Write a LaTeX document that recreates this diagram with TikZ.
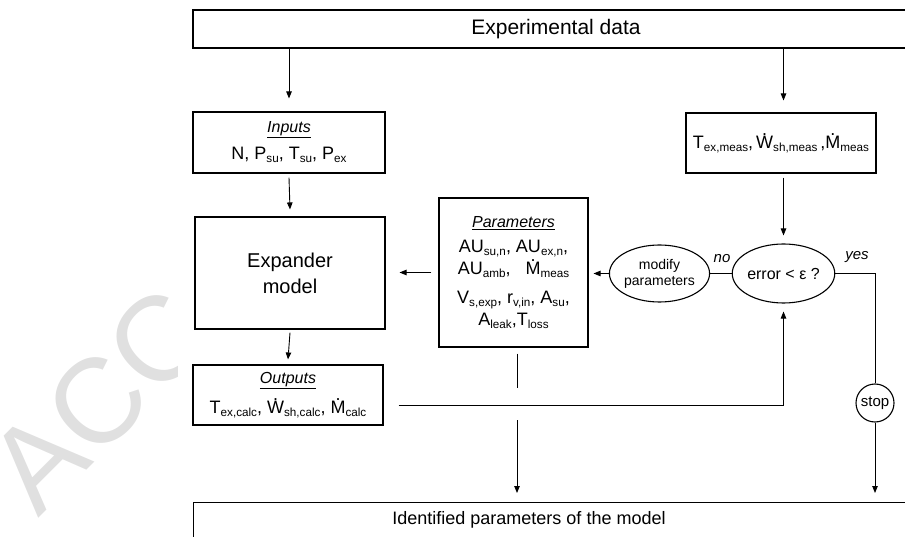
\documentclass[tikz,border=0pt]{standalone}
\usepackage{fontspec}
\setmainfont{Liberation Sans}
\usetikzlibrary{arrows.meta,shapes.geometric,calc}
\makeatletter
\newcommand\lo[1]{\raisebox{-0.32ex}{\fontsize{\fpeval{0.65*\f@size}}{\fpeval{0.65*\f@size}}\selectfont #1}}
\makeatother
\newcommand\dt[1]{\setbox0\hbox{#1}\rlap{\hbox to\wd0{\hss\raisebox{\dimexpr\ht0+0.04em\relax}{.}\hss}}#1}
\begin{document}
\begin{tikzpicture}[x=1pt,y=-1pt,
  box/.style={draw, line width=1.1pt, inner sep=0pt, align=center, font=\fontsize{18}{22}\selectfont},
  oval/.style={draw, ellipse, line width=1.1pt, inner sep=0pt, align=center},
  arr/.style={-{Triangle[length=7pt,width=5.5pt]}, line width=0.9pt},
  ln/.style={line width=0.9pt},
  lbl/.style={font=\fontsize{15}{18}\selectfont\itshape, inner sep=0pt}]
\useasboundingbox (0,0) rectangle (905,537);
\clip (0,0) rectangle (905,537);
% watermark
\begin{scope}
\clip (0,0) rectangle (177,537);
\node[rotate=45, text=black!12, font=\fontsize{120}{120}\selectfont, inner sep=0pt] (wm) at (99,400) {ACC};
\end{scope}
% boxes
\node[box, minimum width=726pt, minimum height=38pt, font=\fontsize{21}{25}\selectfont] (top) at (556,29) {Experimental data};
\node[box, minimum width=192pt, minimum height=61pt] (inp) at (289,142.5)
  {{\fontsize{16}{19}\selectfont\itshape\underline{Inputs}}\\[5pt] N, P\lo{su}, T\lo{su}, P\lo{ex}};
\node[box, minimum width=190pt, minimum height=112pt, font=\fontsize{20}{26}\selectfont] (exp) at (290,273) {Expander\\model};
\node[box, minimum width=190pt, minimum height=60pt] (out) at (288,395)
  {{\fontsize{16}{19}\selectfont\itshape\underline{Outputs}}\\[8pt] T\lo{ex,calc}, \dt{W}\lo{sh,calc}, \dt{M}\lo{calc}};
\node[box, minimum width=190pt, minimum height=60pt] (meas) at (781,143)
  {T\lo{ex,meas},\,\dt{W}\lo{sh,meas}\,,\dt{M}\lo{meas}};
\node[box, minimum width=149pt, minimum height=149pt] (par) at (513.5,272.5)
  {{\fontsize{16}{19}\selectfont\itshape\underline{Parameters}}\\[3pt]
   AU\lo{su,n}, AU\lo{ex,n},\\
   AU\lo{amb},\ \ \ \dt{M}\lo{meas}\\[7pt]
   V\lo{s,exp}, r\lo{v,in}, A\lo{su},\\
   A\lo{leak},T\lo{loss}};
\node[oval, minimum width=89pt, minimum height=57pt, font=\fontsize{14}{16}\selectfont] (mod) at (659.5,273.5) {modify\\parameters};
\node[oval, minimum width=91pt, minimum height=59pt, font=\fontsize{16}{19}\selectfont] (err) at (783.5,273.5) {error < ε ?};
\node[draw, circle, line width=1.1pt, minimum size=38pt, inner sep=0pt, font=\fontsize{15}{18}\selectfont] (stop) at (875,403) {stop};
\node[lbl] (no) at (722,259) {no};
\node[lbl] (yes) at (857,257) {yes};
\node[draw, line width=1.1pt, minimum width=767pt, minimum height=60pt, anchor=north west, inner sep=0pt] (bot) at (193,502) {};
\node[font=\fontsize{18}{22}\selectfont, inner sep=0pt] (botlbl) at (529,520) {Identified parameters of the model};
% connectors
\draw[arr] (top.south -| inp.north) -- ([yshift=13pt]inp.north);
\draw[arr] (top.south -| err.north) -- ([yshift=12pt]meas.north -| err.north);
\draw[arr] ([yshift=-4pt]inp.south) -- ([yshift=7pt]exp.north);
\draw[arr] ([yshift=-3pt]exp.south) -- ([yshift=5pt]out.north);
\draw[arr] ([yshift=-4pt]meas.south -| err.north) -- ([yshift=8pt]err.north);
\draw[ln] (err.west) -- (mod.east);
\draw[arr] (mod.west) -- ([xshift=5pt]par.east |- mod.west);
\draw[arr] ([xshift=-7pt]par.west) -- ([xshift=14pt]exp.east |- par.west);
\draw[ln] (err.east) -| (stop.north);
\draw[arr] (stop.south) -- ([yshift=9pt]stop.south |- bot.north);
\draw[arr] ([xshift=15pt,yshift=-10pt]out.east) -| ([yshift=-8pt]err.south);
\coordinate (gapT) at (517,388);
\coordinate (gapB) at (517,420);
\draw[ln] ([yshift=-6pt]par.south -| gapT) -- (gapT);
\draw[arr] (gapB) -- ([yshift=9pt]bot.north -| gapB);
\end{tikzpicture}
\end{document}
